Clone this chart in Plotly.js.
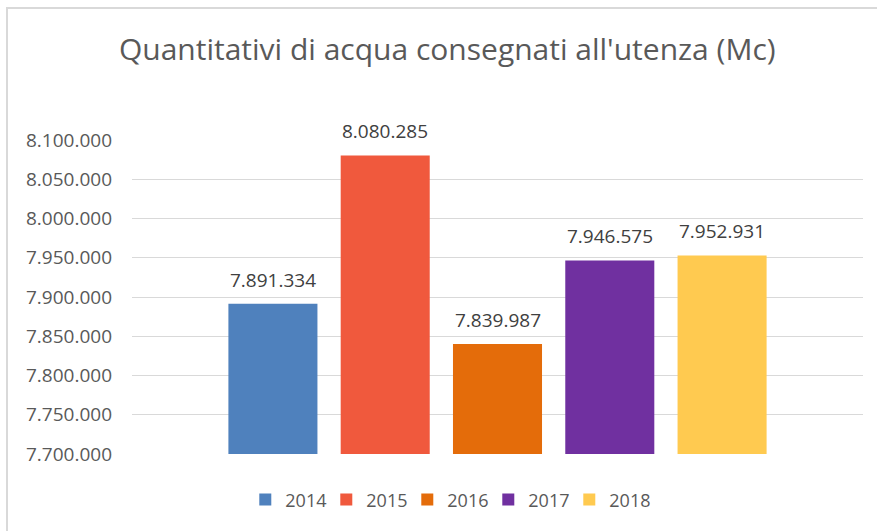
<!DOCTYPE html>
<html>
<head>
<meta charset="utf-8">
<script src="https://cdn.plot.ly/plotly-3.0.1.min.js"></script>
<style>
html,body{margin:0;padding:0;background:#fff;}
#wrap{position:relative;width:877px;height:531px;}
#chart{position:absolute;left:0;top:0;width:877px;height:531px;}
#frame{position:absolute;left:6px;top:7px;width:871px;height:524px;border-left:2px solid #d9d9d9;border-top:2px solid #d9d9d9;box-sizing:border-box;pointer-events:none;}
</style>
</head>
<body>
<div id="wrap"><div id="chart"></div><div id="frame"></div></div>
<script>
const years = ["2014", "2015", "2016", "2017", "2018"];
const values = [7891334, 8080285, 7839987, 7946575, 7952931];
const colors = ["#4F81BD", "#F0593D", "#E46C0A", "#7030A0", "#FFCA50"];
const yTicks = [7700000, 7750000, 7800000, 7850000, 7900000, 7950000, 8000000, 8050000, 8100000];

const font = "Open Sans, Liberation Sans, sans-serif";
const fmt = v => Math.round(v).toString().replace(/\B(?=(\d{3})+(?!\d))/g, ".");

const traces = years.map((yr, i) => ({
  type: "bar",
  name: yr,
  x: [yr],
  y: [values[i]],
  marker: {color: colors[i]},
  hoverinfo: "none"
}));

const annotations = years.map((yr, i) => ({
  x: i, y: values[i], xref: "x", yref: "y",
  text: fmt(values[i]),
  showarrow: false,
  yanchor: "bottom",
  yshift: 9,
  font: {family: font, size: 19, color: "#404040"}
}));

const layout = {
  width: 877, height: 531,
  margin: {l: 132, r: 14, t: 140, b: 77},
  paper_bgcolor: "#fff", plot_bgcolor: "#fff",
  separators: ",.",
  barmode: "overlay",
  bargap: 0.207,
  title: {
    text: "Quantitativi di acqua consegnati all'utenza (Mc)",
    font: {family: font, size: 30, color: "#595959"},
    x: 0.51, xref: "container", xanchor: "center",
    y: 0.906, yref: "container", yanchor: "middle"
  },
  xaxis: {type: "category", categoryarray: years, range: [-1.255, 5.255], showticklabels: false, showgrid: false, zeroline: false, showline: false, ticks: ""},
  yaxis: {
    range: [7700000, 8100000],
    tickvals: yTicks,
    tickformat: ",d",
    tickfont: {family: font, size: 19, color: "#595959"},
    gridcolor: "#d9d9d9", gridwidth: 1,
    zeroline: false, showline: false, ticks: "",
    ticklabelstandoff: 19
  },
  annotations: annotations,
  showlegend: true,
  legend: {
    orientation: "h",
    x: 0.432, xanchor: "center",
    y: -0.146, yanchor: "middle",
    font: {family: font, size: 18, color: "#595959"},
    itemwidth: 30,
    entrywidth: 36,
    traceorder: "normal"
  }
};

Plotly.newPlot("chart", traces, layout, {displayModeBar: false, staticPlot: true});
</script>
</body>
</html>
